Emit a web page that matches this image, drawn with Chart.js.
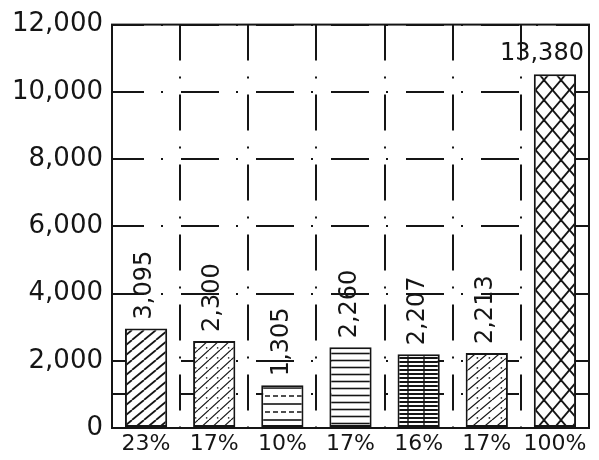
<!DOCTYPE html>
<html>
<head>
<meta charset="utf-8">
<script src="https://cdn.jsdelivr.net/npm/chart.js@4/dist/chart.umd.min.js"></script>
<style>
  html, body { margin: 0; background: #fff; }
  #wrap { width: 599px; height: 460px; }
</style>
</head>
<body>
<div id="wrap"><canvas id="chart"></canvas></div>
<script>
// data
const categories = ['23%', '17%', '10%', '17%', '16%', '17%', '100%'];
const barHeights = [2960, 2590, 1275, 2400, 2195, 2230, 10520];
const barLabels = ['3,095', '2,300', '1,305', '2,260', '2,207', '2,213', '13,380'];
const yTicks = [0, 1000, 2000, 4000, 6000, 8000, 10000, 12000];
const patternKinds = ['diag', 'diagDotsThin', 'hdash', 'hlines', 'dense', 'diagDots', 'cross'];

const INK = '#151515';
const FONT = "'DejaVu Sans', sans-serif";

// hatch fills
function makePattern(kind) {
    const sizes = {
        diag: [12, 10], diagDotsThin: [11, 10], hdash: [16, 16], hlines: [8, 7],
        dense: [16, 4], diagDots: [12, 10], cross: [17, 20]
    };
    const [w, h] = sizes[kind];
    const c = document.createElement('canvas');
    c.width = w; c.height = h;
    const g = c.getContext('2d');
    g.fillStyle = '#fff';
    g.fillRect(0, 0, w, h);
    g.strokeStyle = INK;
    g.fillStyle = INK;

    const rising = () => {
        for (let k = -1; k <= 1; k++) {
            g.beginPath();
            g.moveTo(k * w, h);
            g.lineTo(k * w + w, 0);
            g.stroke();
        }
    };
    const falling = () => {
        for (let k = -1; k <= 1; k++) {
            g.beginPath();
            g.moveTo(k * w, 0);
            g.lineTo(k * w + w, h);
            g.stroke();
        }
    };

    if (kind === 'diag') {
        g.lineWidth = 1.8;
        rising();
    } else if (kind === 'diagDotsThin') {
        g.lineWidth = 1.2;
        rising();
        g.fillRect(w * 0.72, h * 0.72, 1.4, 1.4);
    } else if (kind === 'diagDots') {
        g.lineWidth = 1.3;
        rising();
        g.fillRect(w * 0.72, h * 0.72, 1.5, 1.5);
    } else if (kind === 'hdash') {
        g.lineWidth = 1.6;
        g.beginPath(); g.moveTo(0, 4); g.lineTo(w, 4); g.stroke();
        g.lineWidth = 1.4;
        g.beginPath(); g.moveTo(1, 12); g.lineTo(6, 12); g.moveTo(9, 12); g.lineTo(14, 12); g.stroke();
    } else if (kind === 'hlines') {
        g.lineWidth = 1.6;
        g.beginPath(); g.moveTo(0, 3.5); g.lineTo(w, 3.5); g.stroke();
    } else if (kind === 'dense') {
        g.lineWidth = 2;
        g.beginPath(); g.moveTo(0, 2); g.lineTo(w, 2); g.stroke();
        g.lineWidth = 1.4;
        g.beginPath(); g.moveTo(8, 0); g.lineTo(8, h); g.stroke();
    } else if (kind === 'cross') {
        g.lineWidth = 1.8;
        rising();
        falling();
    }
    return document.getElementById('chart').getContext('2d').createPattern(c, 'repeat');
}

// value labels: upright for the total, turned for the rest
const valueLabels = {
    id: 'valueLabels',
    afterDraw(chart) {
        const ctx = chart.ctx;
        const meta = chart.getDatasetMeta(0);
        ctx.save();
        ctx.fillStyle = INK;
        ctx.font = '24px ' + FONT;
        meta.data.forEach((bar, i) => {
            const txt = barLabels[i];
            if (i === meta.data.length - 1) {
                ctx.textAlign = 'center';
                ctx.textBaseline = 'bottom';
                ctx.fillText(txt, bar.x - 13, bar.y - 9);
            } else {
                ctx.save();
                ctx.translate(bar.x - 1, bar.y - 9);
                ctx.rotate(-Math.PI / 2);
                ctx.textAlign = 'left';
                ctx.textBaseline = 'middle';
                ctx.fillText(txt, 0, 0);
                ctx.restore();
            }
        });
        ctx.restore();
    }
};

// solid box round the plot
const frame = {
    id: 'frame',
    afterDraw(chart) {
        const a = chart.chartArea;
        const ctx = chart.ctx;
        ctx.save();
        ctx.strokeStyle = INK;
        ctx.lineWidth = 2;
        ctx.strokeRect(a.left, a.top, a.right - a.left, a.bottom - a.top);
        ctx.restore();
    }
};

new Chart(document.getElementById('chart'), {
    type: 'bar',
    data: {
        labels: categories,
        datasets: [{
            data: barHeights,
            backgroundColor: patternKinds.map(makePattern),
            borderColor: INK,
            borderWidth: 2,
            borderSkipped: false,
            barPercentage: 0.62,
            categoryPercentage: 1
        }]
    },
    options: {
        responsive: true,
        maintainAspectRatio: false,
        animation: false,
        layout: { padding: { top: 23, right: 10, left: 0, bottom: 0 } },
        plugins: { legend: { display: false }, tooltip: { enabled: false } },
        scales: {
            x: {
                z: 1,
                grid: { color: INK, lineWidth: 2, drawTicks: false, offset: true },
                border: { color: INK, width: 2, dash: [36, 16, 2, 16] },
                ticks: { color: INK, font: { family: FONT, size: 22 }, padding: 3, maxRotation: 0, autoSkip: false },
                afterFit(scale) { scale.height = 32; }
            },
            y: {
                z: 1,
                min: 0,
                max: 12000,
                afterBuildTicks(scale) { scale.ticks = yTicks.map(v => ({ value: v })); },
                grid: { color: INK, lineWidth: 2, drawTicks: false },
                border: { color: INK, width: 2, dash: [38, 17, 2, 18], dashOffset: 7 },
                ticks: {
                    color: INK,
                    font: { family: FONT, size: 26 },
                    padding: 9,
                    callback: v => (v % 2000 === 0 ? v.toLocaleString('en-US') : '')
                },
                afterFit(scale) { scale.width = 112; }
            }
        }
    },
    plugins: [valueLabels, frame]
});
</script>
</body>
</html>
